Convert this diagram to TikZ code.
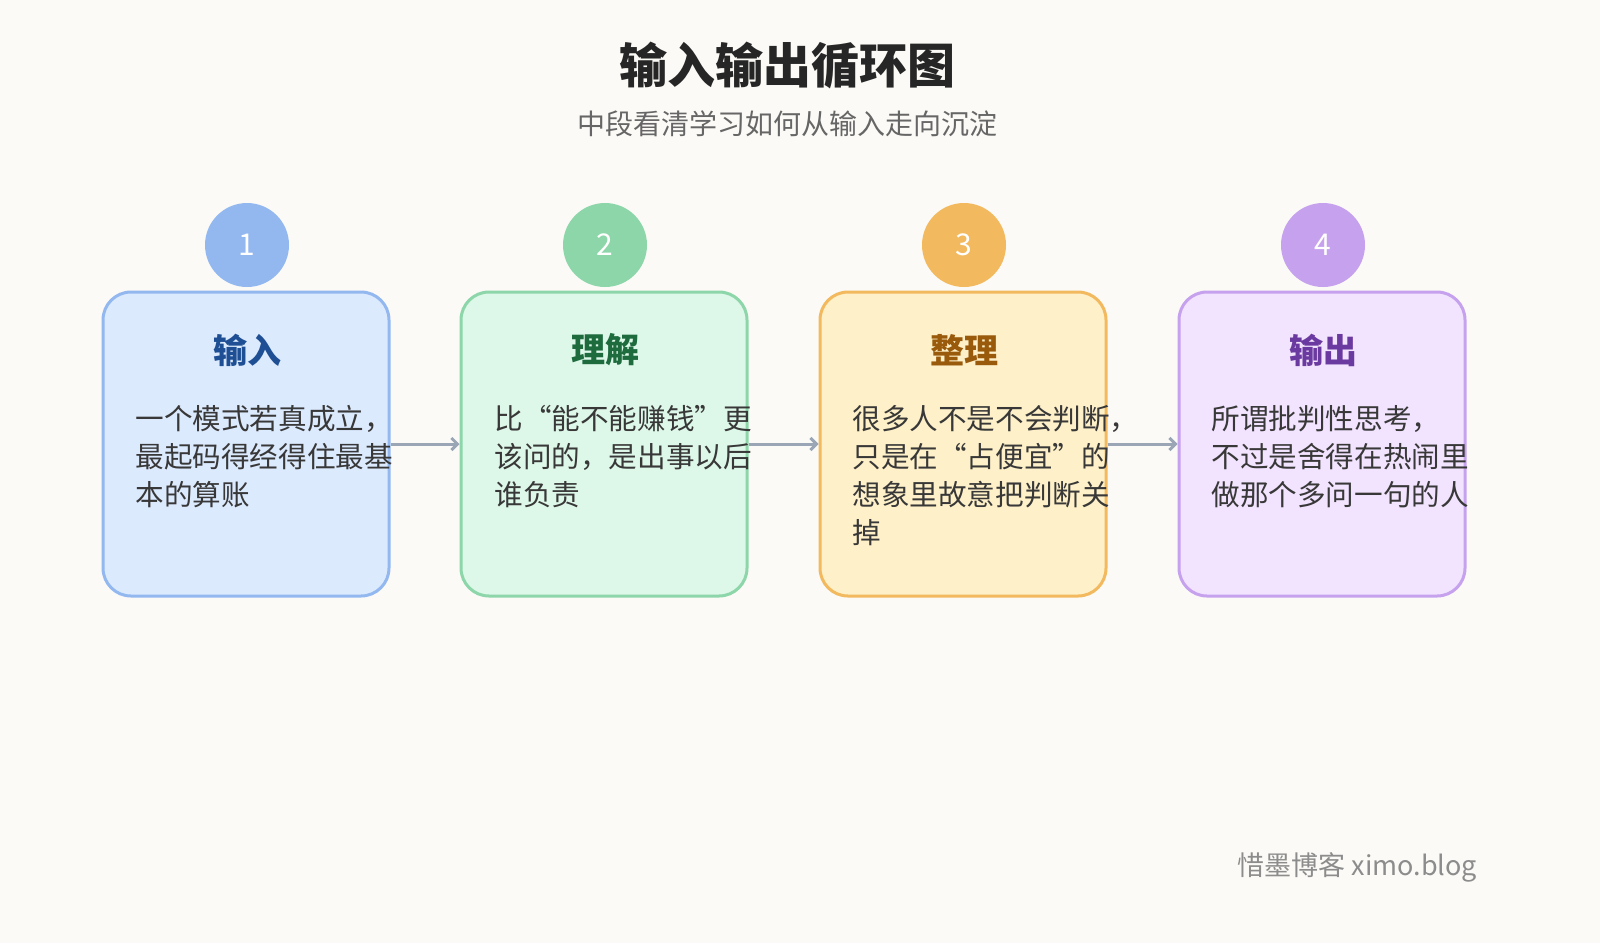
\documentclass[tikz,border=0pt]{standalone}
\usepackage{fontspec}
\setmainfont{Noto Sans CJK SC}
\usetikzlibrary{arrows.meta}
\definecolor{bgc}{HTML}{FBFAF6}
\definecolor{arrc}{HTML}{9AA6B6}
\definecolor{fillA}{HTML}{DCEAFE}\definecolor{lineA}{HTML}{93B8F0}\definecolor{headA}{HTML}{1E4F94}
\definecolor{fillB}{HTML}{DDF7E8}\definecolor{lineB}{HTML}{8DD6AA}\definecolor{headB}{HTML}{1E6B3E}
\definecolor{fillC}{HTML}{FEF0C8}\definecolor{lineC}{HTML}{F2B95E}\definecolor{headC}{HTML}{9A5A0C}
\definecolor{fillD}{HTML}{F2E3FE}\definecolor{lineD}{HTML}{C6A2EE}\definecolor{headD}{HTML}{6B3AA0}
\tikzset{
  stagebox/.style={draw=#1, line width=1.5pt, rounded corners=14pt, minimum width=143pt, minimum height=152pt},
  numdot/.style={circle, fill=#1, minimum size=42pt, inner sep=0pt, text=white, font=\fontsize{15}{15}\selectfont},
  headtxt/.style={text=#1, font=\fontsize{17}{17}\selectfont\bfseries},
  bodytxt/.style={anchor=north west, inner sep=0pt, align=left, text=black!78, font=\fontsize{14.3}{19}\selectfont},
  flow/.style={draw=arrc, line width=1.5pt, -{Straight Barb[length=3pt,width=6pt]}}
}
\begin{document}
\begin{tikzpicture}[x=0.5pt,y=-0.5pt]
  \fill[bgc] (0,0) rectangle (1600,943);
  \useasboundingbox (0,0) rectangle (1600,943);
  \node[font=\fontsize{24}{24}\selectfont\bfseries, text=black!85] (title) at (787,65) {输入输出循环图};
  \node[font=\fontsize{14}{14}\selectfont, text=black!60] (sub) at (787,124) {中段看清学习如何从输入走向沉淀};
  % stage boxes
  \node[stagebox=lineA, fill=fillA] (s1) at (246,444) {};
  \node[stagebox=lineB, fill=fillB] (s2) at (604,444) {};
  \node[stagebox=lineC, fill=fillC] (s3) at (963,444) {};
  \node[stagebox=lineD, fill=fillD] (s4) at (1322,444) {};
  \node[numdot=lineA] (n1) at (247,245) {1};
  \node[numdot=lineB] (n2) at (605,245) {2};
  \node[numdot=lineC] (n3) at (964,245) {3};
  \node[numdot=lineD] (n4) at (1323,245) {4};
  \node[headtxt=headA] (h1) at (247,350) {输入};
  \node[headtxt=headB] (h2) at (605,350) {理解};
  \node[headtxt=headC] (h3) at (964,350) {整理};
  \node[headtxt=headD] (h4) at (1323,350) {输出};
  \node[bodytxt] (b1) at (135,405) {一个模式若真成立，\\最起码得经得住最基\\本的算账};
  \node[bodytxt] (b2) at (494,405) {比“能不能赚钱”更\\该问的，是出事以后\\谁负责};
  \node[bodytxt] (b3) at (852,405) {很多人不是不会判断，\\只是在“占便宜”的\\想象里故意把判断关\\掉};
  \node[bodytxt] (b4) at (1211,405) {所谓批判性思考，\\不过是舍得在热闹里\\做那个多问一句的人};
  % connectors
  \draw[flow] (s1.east) -- (s2.west);
  \draw[flow] (s2.east) -- (s3.west);
  \draw[flow] (s3.east) -- (s4.west);
  \node[anchor=east, text=black!45, font=\fontsize{13.5}{13.5}\selectfont] (mark) at (1484,867) {惜墨博客 ximo.blog};
\end{tikzpicture}
\end{document}
